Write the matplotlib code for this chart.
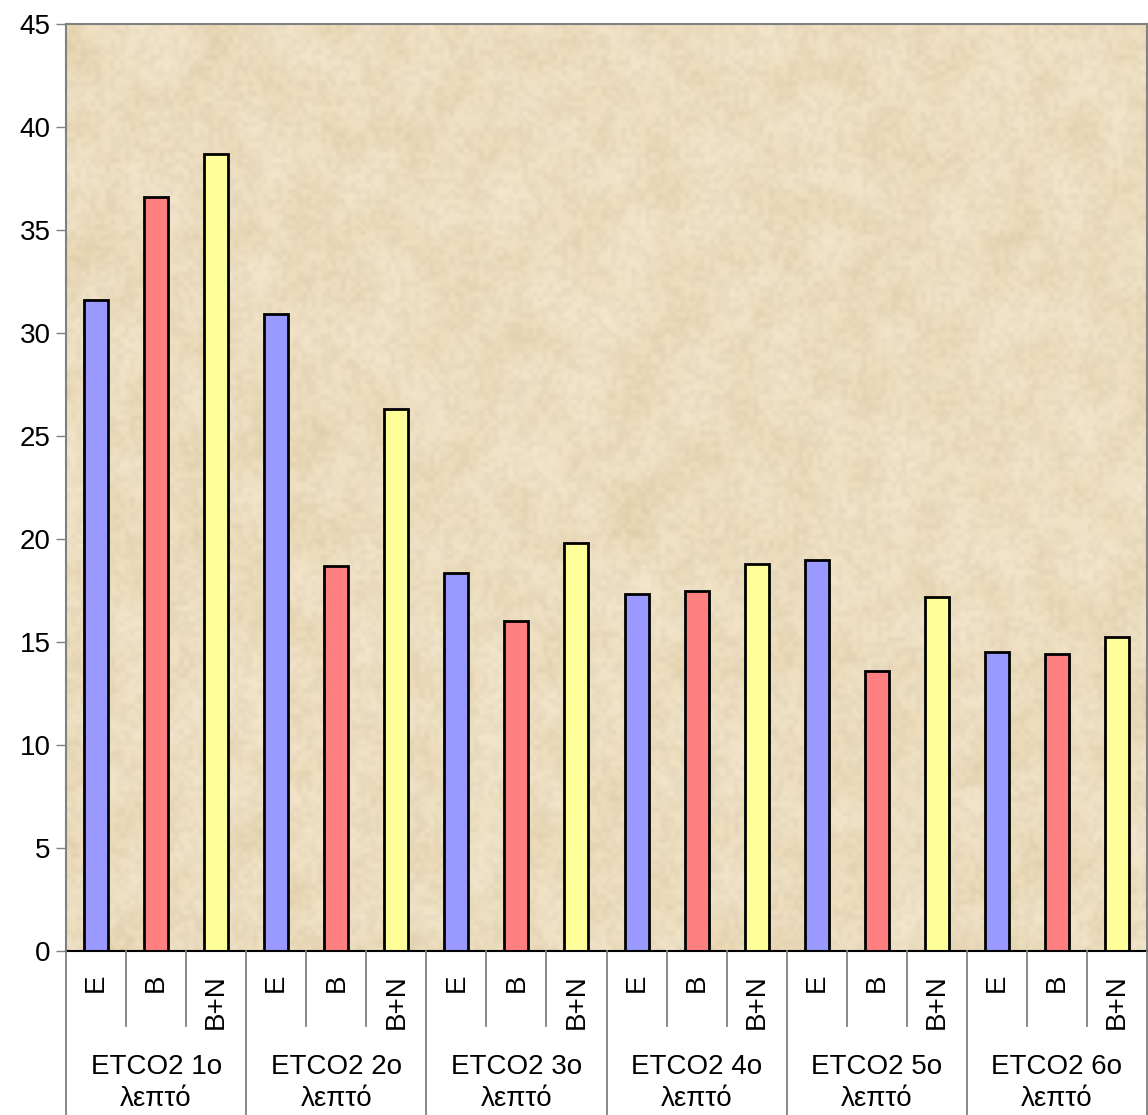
import numpy as np
import matplotlib.pyplot as plt
from matplotlib.colors import LinearSegmentedColormap

# ETCO2 per minute for the three groups
groups = ['ETCO2 1ο\nλεπτό', 'ETCO2 2ο\nλεπτό', 'ETCO2 3ο\nλεπτό',
          'ETCO2 4ο\nλεπτό', 'ETCO2 5ο\nλεπτό', 'ETCO2 6ο\nλεπτό']
series = ['E', 'B', 'B+N']
vals_e = [31.6, 30.9, 18.35, 17.35, 19.0, 14.5]
vals_b = [36.6, 18.7, 16.0, 17.5, 13.6, 14.4]
vals_bn = [38.7, 26.3, 19.8, 18.8, 17.2, 15.25]
colors = ['#9999FF', '#FF8080', '#FFFF99']

plt.rcParams['font.family'] = ['Liberation Sans', 'DejaVu Sans']

W, H = 1148, 1115
fig = plt.figure(figsize=(W / 100, H / 100), dpi=100)
left, right, top, bottom = 66, 1147, 24, 951
ax = fig.add_axes([left / W, 1 - bottom / H, (right - left) / W, (bottom - top) / H])

# parchment-like background
rs = np.random.RandomState(7)
cmap = LinearSegmentedColormap.from_list('paper', ['#E6D2A8', '#F0E1C2', '#F7EBD3'])
blotch = rs.rand(45, 55)
ax.imshow(blotch, extent=[-0.5, 17.5, 0, 45], aspect='auto', cmap=cmap,
          interpolation='bicubic', zorder=0, vmin=-0.2, vmax=1.2)
grain = rs.rand(180, 220)
ax.imshow(grain, extent=[-0.5, 17.5, 0, 45], aspect='auto', cmap='Greys',
          interpolation='bilinear', zorder=0.5, alpha=0.05)

n = len(groups)
x = np.arange(n * 3)
heights = []
cols = []
for i in range(n):
    heights += [vals_e[i], vals_b[i], vals_bn[i]]
    cols += colors
ax.bar(x, heights, width=0.4, color=cols, edgecolor='black', linewidth=2, zorder=2)

ax.set_xlim(-0.5, n * 3 - 0.5)
ax.set_ylim(0, 45)
ax.set_yticks(range(0, 46, 5))
ax.tick_params(axis='y', labelsize=20, length=7, width=1, color='#808080', pad=4)
ax.set_xticks([])
for s in ['left', 'top', 'right']:
    ax.spines[s].set_color('#808080')
    ax.spines[s].set_linewidth(1.5)
ax.spines['bottom'].set_color('black')
ax.spines['bottom'].set_linewidth(1.5)

# two-level category axis
tr = ax.get_xaxis_transform()
ph = bottom - top
inner_end = -(1026 - bottom) / ph
outer_end = -(H - bottom) / ph
for k in range(n * 3 + 1):
    y_end = outer_end if k % 3 == 0 else inner_end
    ax.plot([k - 0.5, k - 0.5], [0, y_end], transform=tr, color='#808080',
            linewidth=1.3, clip_on=False, zorder=3)
for k in range(n * 3):
    ax.text(k, -(974 - bottom) / ph, series[k % 3], transform=tr, rotation=90,
            ha='center', va='top', fontsize=20)
for i, g in enumerate(groups):
    ax.text(3 * i + 1, -(1083 - bottom) / ph, g, transform=tr, ha='center',
            va='center', fontsize=20, linespacing=1.35)

fig.savefig('out.png', dpi=100)
